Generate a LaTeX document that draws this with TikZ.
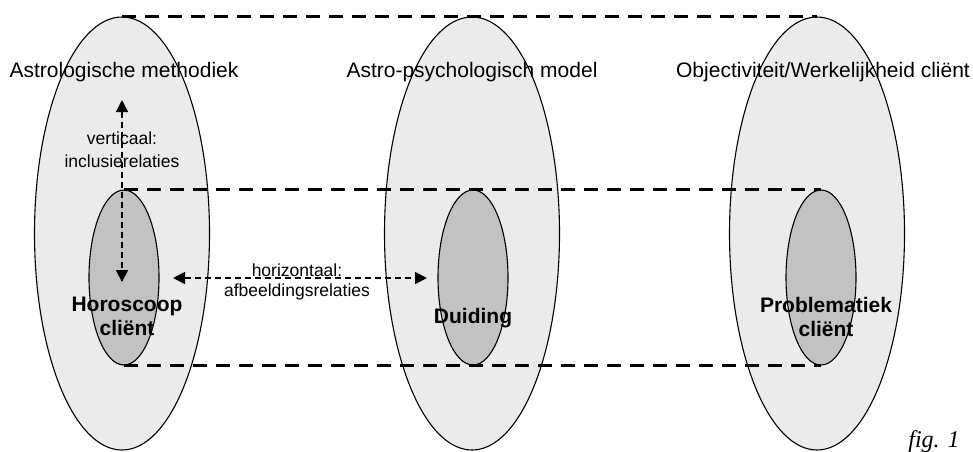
\documentclass[tikz,border=0pt]{standalone}
\usepackage{fontspec}
\setmainfont{Liberation Sans}
\newfontfamily\figfont{Liberation Serif}
\usetikzlibrary{shapes.geometric,arrows.meta}
\definecolor{outerfill}{gray}{0.92}
\definecolor{innerfill}{gray}{0.76}
\tikzset{
    outer/.style={draw, ellipse, fill=outerfill, inner sep=0pt, minimum width=175pt, minimum height=433pt, line width=1.1pt},
    inner/.style={draw, ellipse, fill=innerfill, inner sep=0pt, minimum width=70pt, minimum height=175pt, line width=1.1pt},
    link/.style={line width=2.2pt, dash pattern=on 14pt off 9pt},
    rel/.style={line width=1.8pt, dash pattern=on 6pt off 4pt, {Triangle[length=12pt,width=12pt]}-{Triangle[length=12pt,width=12pt]}},
    kop/.style={inner sep=0pt, anchor=base, font=\fontsize{21}{25}\selectfont},
    uitleg/.style={inner sep=0pt, anchor=north, align=center},
    kern/.style={inner sep=0pt, align=center, font=\bfseries\fontsize{21}{24}\selectfont}
}
\begin{document}
\begin{tikzpicture}[x=1pt, y=-1pt]
    \useasboundingbox (0,0) rectangle (973,451);
    % outer fields and inner kernels
    \node[outer] (meth) at (122,233.5) {}; \node[outer] (model) at (472,233.5) {}; \node[outer] (obj) at (817,233.5) {};
    \node[inner] (horo) at (124,277.5) {}; \node[inner] (duid) at (473,277.5) {}; \node[inner] (prob) at (821,277.5) {};

    \draw[link] (meth.north) -- (obj.north);
    \draw[link] (horo.north) -- (prob.north);
    \draw[link] (horo.south) -- (prob.south);

    \coordinate (vtop) at (122,100); \coordinate (vbot) at (122,282);
    \coordinate (hlft) at (173,278); \coordinate (hrgt) at (427,278);
    \draw[rel] (vtop) -- (vbot);
    \draw[rel] (hlft) -- (hrgt);

    \node[kop] (tmeth) at (124,77) {Astrologische methodiek};
    \node[kop] (tmodel) at (472,77) {Astro-psychologisch model};
    \node[kop] (tobj) at (823,77) {Objectiviteit/Werkelijkheid cliënt};

    \node[uitleg, font=\fontsize{17.5}{23}\selectfont] (tvert) at (122,132) {verticaal:\\inclusierelaties};
    \node[uitleg, font=\fontsize{17.5}{19.5}\selectfont] (thor) at (297,264) {horizontaal:\\afbeeldingsrelaties};

    \node[kern, anchor=north] (thoro) at (127,297) {Horoscoop\\cliënt};
    \node[kern, anchor=base] (tduid) at (473,323) {Duiding};
    \node[kern, anchor=north] (tprob) at (826,297) {Problematiek\\cliënt};

    \node[inner sep=0pt, anchor=base, font=\figfont\itshape\fontsize{24}{28}\selectfont] (tfig) at (934,447) {fig. 1};
\end{tikzpicture}
\end{document}
